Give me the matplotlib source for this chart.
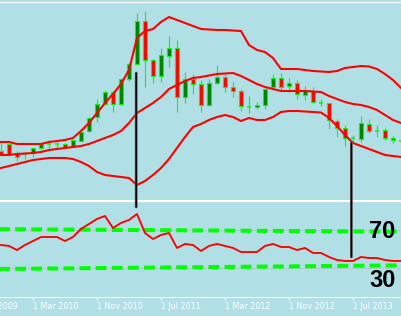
import matplotlib
matplotlib.use("Agg")
import matplotlib.pyplot as plt
from matplotlib.patches import ConnectionPatch
import numpy as np
import pandas as pd

# monthly candles, Nov 2009 .. Jan 2014
months = pd.date_range("2009-11-01", periods=51, freq="MS")

opens = [49, 56, 47, 46, 47, 52, 56, 56, 56, 53, 59, 69, 83, 96, 108, 96, 121, 136, 179, 140,
         124, 144, 152, 103, 121, 116, 95, 117, 123, 113, 109, 93, 93, 95, 113, 122, 114, 117, 105, 109,
         97, 97, 79, 72, 62, 61, 76, 69, 70, 62, 59]
closes = [45, 46, 43, 46, 52, 56, 56, 56, 53, 60, 68, 82, 96, 108, 96, 121, 136, 179, 140, 124,
          145, 152, 103, 121, 116, 95, 117, 123, 113, 109, 94, 93, 95, 111, 122, 113, 117, 106, 109, 98,
          97, 80, 72, 62, 62, 77, 69, 69, 62, 60, 59]
highs = [57, 57, 49, 48.5, 52, 57, 60, 58, 57, 61, 71, 83, 101, 110, 109, 122, 137, 187, 189, 141,
         152, 164, 160, 128, 126, 120, 121, 135, 126, 118, 111, 104, 98, 112, 126, 127, 122, 120, 114, 113,
         101, 97, 81, 75, 65, 84, 81, 75, 72, 64, 61]
lows = [45, 45, 39, 41, 43, 51, 52, 52, 53, 53, 59, 68, 78, 95, 88, 95, 119, 136, 113, 117,
        118, 133, 88, 97, 106, 88, 94, 116, 108, 103, 89, 87, 91, 91, 110, 109, 108, 101, 100, 97,
        94, 71, 63, 54, 58, 58, 67, 63, 60, 57, 57]

bb_upper = [58, 58, 56, 56, 56, 56, 58, 59, 60, 62, 69, 77, 87, 97, 106, 116, 130, 162, 169, 171,
            178, 183, 180, 177, 174, 171, 170.5, 170, 170, 169.5, 169, 155, 150, 148, 142, 131, 131, 131, 130, 129,
            128.5, 128, 129, 132, 133, 134, 133.5, 131, 126, 120, 112]
bb_middle = [45, 45, 46, 46.5, 47, 48, 50, 51, 52, 53, 54, 56, 59, 62, 65, 69, 77, 87, 92, 97,
             103, 111, 115, 119, 122, 123, 124.5, 126, 126.5, 127, 124, 120, 116, 113, 111, 109, 109, 109, 109, 108.5,
             108, 104, 101, 98, 96, 95, 93, 90, 85, 80, 77]
bb_lower = [32, 34, 36, 38, 40, 41, 42, 42, 42, 41, 38, 34, 28, 25, 24, 23, 22, 15, 19, 25,
            32, 41, 52, 63, 73, 76, 80, 83, 85, 83, 79, 82, 80, 80, 83, 88, 89, 89, 88.5, 88,
            87.5, 82, 74, 65, 57, 54, 51, 48, 45, 44, 43]

rsi = [54.2, 53.2, 48.9, 54.2, 58.4, 62.6, 62.6, 62.6, 58.4, 62.6, 71.1, 76.3, 81.6, 84.7, 72.1, 77.4, 80.5, 86.8, 66.8, 60.5,
       64.7, 66.8, 51.1, 55.3, 54.2, 47.9, 53.2, 55.3, 53.2, 51.1, 46.8, 46.8, 46.8, 53.2, 55.3, 52.1, 52.1, 48.9, 51.1, 45.8,
       45.8, 41.6, 38.4, 37.4, 37.4, 41.6, 40.5, 40.5, 38.4, 37.4, 37.4]

rsi_levels = [70, 30]
# hand drawn trend lines in the rsi window (value at left edge, value at right edge)
trend_top = [71.1, 68.2]
trend_bottom = [28.6, 32.8]

# divergence markers: month index, price where it starts, rsi where it ends
div_month = [16.9, 43.8]
div_price = [127, 57]
div_rsi = [94.2, 41.6]

# time scale labels (month index from Nov 2009) - first one is cut by the left edge
tick_pos = [-2.9, 4, 12, 20, 28, 36, 44]
tick_labels = ["1 Jul 2009", "1 Mar 2010", "1 Nov 2010", "1 Jul 2011",
               "1 Mar 2012", "1 Nov 2012", "1 Jul 2013"]

bg = "#B0E0E6"
lime = "#00FF00"
x = np.arange(len(months))
xlim = (-5.125, 50.5)

fig = plt.figure(figsize=(4.01, 3.16), dpi=100, facecolor=bg)
left = -40 / 401
width = 445 / 401
ax = fig.add_axes([left, 1 - 199.5 / 316, width, 197.5 / 316], facecolor=bg)
ax2 = fig.add_axes([left, 1 - 297 / 316, width, 96 / 316], facecolor=bg)

# candles
for i in range(len(x)):
    o, c = opens[i], closes[i]
    ax.vlines(x[i], lows[i], highs[i], color=lime, lw=0.8, zorder=2)
    if abs(c - o) < 0.5:
        ax.hlines(o, x[i] - 0.28, x[i] + 0.28, color=lime, lw=1.1, zorder=3)
    else:
        face = "#008000" if c > o else "#FF0000"
        ax.bar(x[i], c - o, bottom=o, width=0.5, color=face, edgecolor=lime, lw=0.8, zorder=3)

for band in (bb_upper, bb_middle, bb_lower):
    ax.plot(x, band, color="#FF0000", lw=1.5, zorder=4)

ax.set_xlim(*xlim)
ax.set_ylim(0.5, 198)
ax.set_xticks([])
ax.set_yticks([])

# rsi window
for lev in rsi_levels:
    ax2.axhline(lev, color="#A8A8A8", lw=0.7, ls=":", zorder=1)
ax2.plot(xlim, trend_top, color=lime, lw=2.9, ls=(0, (2.7, 1.3)), zorder=2)
ax2.plot(xlim, trend_bottom, color=lime, lw=2.9, ls=(0, (2.7, 1.3)), zorder=2)
ax2.plot(x, rsi, color="#FF0000", lw=1.35, zorder=3)
ax2.text(46, 61.5, "70", fontsize=17, fontweight="bold", family="Liberation Sans", ha="left", va="baseline")
ax2.text(46, 10, "30", fontsize=17, fontweight="bold", family="Liberation Sans", ha="left", va="baseline")

ax2.set_xlim(*xlim)
ax2.set_ylim(-0.53, 100.5)
ax2.set_yticks([])
ax2.set_xticks(tick_pos)
ax2.set_xticklabels(tick_labels, ha="left", fontsize=5.8, color="white")
ax2.tick_params(axis="x", direction="out", length=2.5, width=0.8, color="white", pad=1)

for a in (ax, ax2):
    for side in ("left", "right"):
        a.spines[side].set_visible(False)
    for side in ("top", "bottom"):
        a.spines[side].set_color("white")
        a.spines[side].set_linewidth(0.8)

# divergence lines joining the two windows
for m, p, r in zip(div_month, div_price, div_rsi):
    for col, lw in (("#606060", 2.0), ("#000000", 1.0)):
        con = ConnectionPatch(xyA=(m, p), coordsA="data", axesA=ax,
                              xyB=(m, r), coordsB="data", axesB=ax2,
                              color=col, lw=lw, zorder=10)
        fig.add_artist(con)

fig.savefig("out.png", dpi=100, facecolor=bg)
